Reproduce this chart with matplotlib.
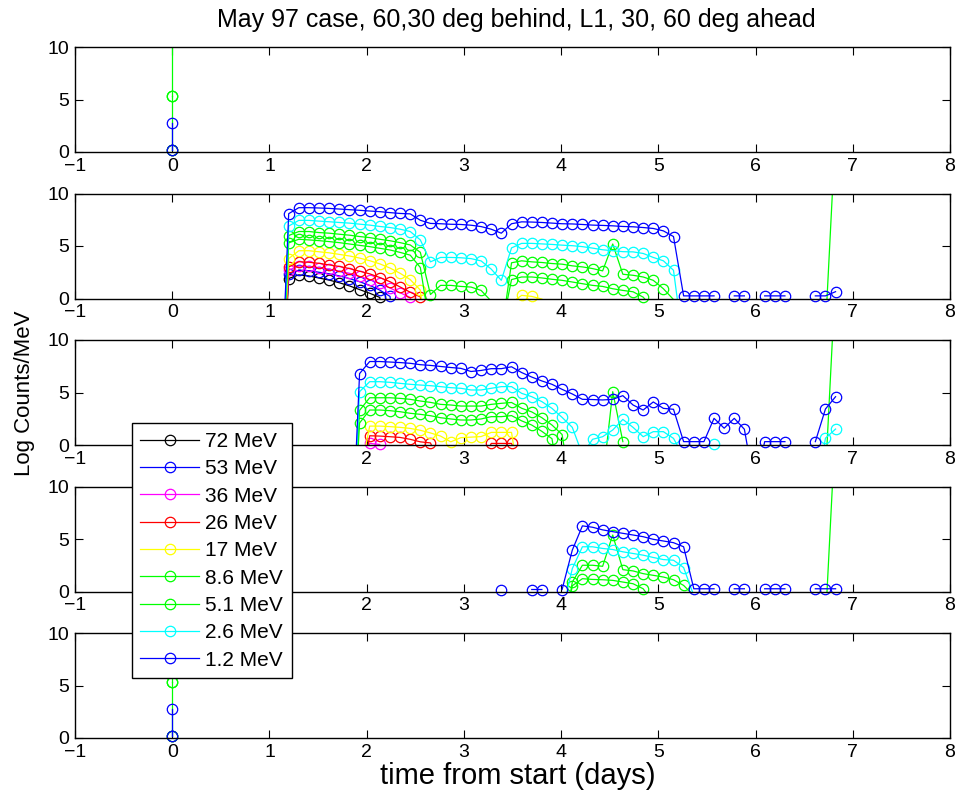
import numpy as np
import matplotlib
matplotlib.use("Agg")
import matplotlib.pyplot as plt
from matplotlib.lines import Line2D

plt.rcParams['font.family'] = ['Liberation Sans', 'DejaVu Sans']

TITLE = "May 97 case, 60,30 deg behind, L1, 30, 60 deg ahead"
XLABEL = "time from start (days)"
YLABEL = "Log Counts/MeV"
ENERGIES = ["72 MeV", "53 MeV", "36 MeV", "26 MeV", "17 MeV",
            "8.6 MeV", "5.1 MeV", "2.6 MeV", "1.2 MeV"]
COLORS = ['#000000', '#0000ff', '#ff00ff', '#ff0000', '#ffff00',
          '#00ff00', '#00ff00', '#00ffff', '#0000ff']
X_TICKS = list(range(-1, 9))
Y_TICKS = [0, 5, 10]

# sample times (days), 2.5-hour bins
T_DAYS = [0.052, 0.156, 0.260, 0.365, 0.469, 0.573, 0.677, 0.781, 0.885, 0.990,
          1.094, 1.198, 1.302, 1.406, 1.510, 1.615, 1.719, 1.823, 1.927, 2.031,
          2.135, 2.240, 2.344, 2.448, 2.552, 2.656, 2.760, 2.865, 2.969, 3.073,
          3.177, 3.281, 3.385, 3.490, 3.594, 3.698, 3.802, 3.906, 4.010, 4.115,
          4.219, 4.323, 4.427, 4.531, 4.635, 4.740, 4.844, 4.948, 5.052, 5.156,
          5.260, 5.365, 5.469, 5.573, 5.677, 5.781, 5.885, 5.990, 6.094, 6.198,
          6.302, 6.406, 6.510, 6.615, 6.719, 6.823]

N = None

# Panel 1 (60 deg behind) and panel 5 (60 deg ahead): samples only at t = 0
P1_T0 = {"72 MeV": [0.2], "8.6 MeV": [0.2, 5.3], "5.1 MeV": [5.3, 16.0],
         "1.2 MeV": [0.2, 2.8]}
P5_T0 = {"72 MeV": [0.2], "8.6 MeV": [0.2, 5.3], "5.1 MeV": [5.3, 16.0],
         "1.2 MeV": [0.2, 2.8]}

# Panels 2-4: (first bin index in T_DAYS, values)
P2 = {
    "72 MeV": (10, [-15, 1.9, 2.25, 2.15, 1.95, 1.75, 1.5, 1.2, 0.85, 0.5, 0.1, -8]),
    "53 MeV": (10, [-15, 2.3, 2.7, 2.65, 2.5, 2.35, 2.15, 1.9, 1.6, 1.25, 0.8, 0.2, -8]),
    "36 MeV": (10, [-15, 2.7, 3.1, 3.05, 2.95, 2.8, 2.6, 2.4, 2.1, 1.8, 1.45, 1.0, 0.55,
                    0.1, -8]),
    "26 MeV": (10, [-15, 3.0, 3.5, 3.45, 3.35, 3.2, 3.05, 2.85, 2.6, 2.35, 2.0, 1.6, 1.1,
                    0.6, 0.15, -8]),
    "17 MeV": (10, [-15, 3.8, 4.55, 4.55, 4.45, 4.35, 4.2, 4.05, 3.85, 3.6, 3.3, 2.9, 2.4,
                    1.8, 0.8, -8, N, N, N, N, N, N, N, -0.4, 0.3, 0.2, -0.05]),
    "8.6 MeV": (10, [-15, 5.3, 5.64, 5.58, 5.51, 5.42, 5.32, 5.19, 5.06, 4.94, 4.78, 4.62,
                     4.39, 4.13, 2.95, -3, N, N, N, N, N, N, -3, 1.8, 2.05, 2.05, 1.96,
                     1.83, 1.73, 1.57, 1.41, 1.25, 1.15, 0.93, 0.77, 0.64, 0.13, -1]),
    "5.1 MeV": (10, [-15, 6.0, 6.38, 6.38, 6.28, 6.22, 6.12, 6.03, 5.9, 5.8, 5.64, 5.5,
                     5.32, 5.1, 4.4, 0.38, 1.25, 1.25, 1.15, 1.09, 0.77, -0.25, -3.4, 3.4,
                     3.59, 3.49, 3.43, 3.33, 3.27, 3.11, 3.01, 2.85, 2.63, 5.19, 2.31, 2.21,
                     2.05, 1.73, 0.93, -0.1, N, N, N, N, N, N, N, N, N, N, N, N, N, N,
                     -2.9, 16]),
    "2.6 MeV": (10, [-15, 6.9, 7.44, 7.44, 7.37, 7.31, 7.24, 7.18, 7.08, 6.99, 6.86, 6.76,
                     6.6, 6.38, 5.58, 3.49, 3.91, 3.91, 3.88, 3.80, 3.58, 2.8, 1.73, 4.82,
                     5.25, 5.25, 5.2, 5.15, 5.08, 5.03, 4.94, 4.8, 4.64, 4.55, 4.46, 4.44,
                     4.29, 3.91, 3.59, 2.69, -4.6]),
    "1.2 MeV": (10, [-15, 8.08, 8.65, 8.65, 8.62, 8.58, 8.52, 8.46, 8.40, 8.33, 8.27,
                     8.18, 8.10, 8.06, 7.45, 7.15, 7.12, 7.07, 7.05, 6.98, 6.85, 6.6, 6.22,
                     7.12, 7.30, 7.28, 7.24, 7.18, 7.12, 7.10, 7.05, 6.99, 6.96, 6.92, 6.86,
                     6.83, 6.76, 6.67, 6.44, 5.9, 0.25, 0.25, 0.25, 0.25, N, 0.25, 0.25, N,
                     0.25, 0.25, 0.25, N, N, 0.25, 0.25, 0.65]),
}

P3 = {
    "36 MeV": (18, [-5, 0.15, 0.05, -5]),
    "26 MeV": (18, [-5, 0.88, 0.85, 0.79, 0.72, 0.54, 0.3, 0.2, -2, N, N, N, -2, 0.15,
                    0.15, 0.15, -2]),
    "17 MeV": (17, [-15, -3, 1.8, 1.8, 1.75, 1.68, 1.58, 1.4, 1.15, 0.85, 0.3, 0.7, 0.75,
                    0.8, 1.2, 1.2, 1.2, -5]),
    "8.6 MeV": (17, [-15, 2.1, 3.33, 3.33, 3.27, 3.17, 3.02, 2.92, 2.79, 2.6, 2.48, 2.38,
                     2.38, 2.48, 2.7, 2.7, 2.8, 2.3, 1.9, 1.3, 0.6, -5]),
    "5.1 MeV": (17, [-15, 3.3, 4.5, 4.5, 4.5, 4.44, 4.35, 4.19, 4.06, 3.87, 3.81, 3.71,
                     3.71, 3.71, 3.87, 3.97, 4.05, 3.5, 3.15, 2.6, 1.9, 1.0, -5, N, N,
                     -3.5, 5.08, 0.32, N, N, N, N, N, N, N, N, N, N, N, N, N, N, N, N, N,
                     N, N, -2.9, 16]),
    "2.6 MeV": (17, [-15, 5.08, 6.03, 6.03, 5.97, 5.87, 5.78, 5.71, 5.65, 5.56, 5.46, 5.4,
                     5.24, 5.24, 5.4, 5.56, 5.56, 4.92, 4.6, 4.13, 3.49, 2.63, 1.68, -0.9,
                     0.54, 0.79, 1.43, 2.44, 1.68, 0.79, 1.27, 1.27, 0.63, -1.1, N, N, 0.1,
                     N, N, N, N, N, N, N, N, N, -5, 0.65, 1.52]),
    "1.2 MeV": (17, [-15, 6.8, 7.95, 7.95, 7.9, 7.85, 7.78, 7.65, 7.58, 7.48, 7.38, 7.3,
                     7.0, 7.1, 7.27, 7.27, 7.45, 6.9, 6.47, 6.1, 5.78, 5.3, 4.86, 4.35, 4.33,
                     4.29, 4.35, 4.7, 3.81, 3.33, 4.1, 3.49, 3.4, 0.32, 0.32, 0.32, 2.54,
                     1.6, 2.54, 1.5, -4, 0.32, 0.32, 0.32, N, N, 0.32, 3.43, 4.6]),
}

P4 = {
    "8.6 MeV": (38, [-5, 0.55, 1.22, 1.15, 1.12, 1.06, 0.9, 0.74, 0.26, -1]),
    "5.1 MeV": (38, [-5, 0.9, 2.5, 2.5, 2.4, 5.38, 2.08, 1.96, 1.7, 1.54, 1.38, 1.12, 0.58,
                     -0.4, N, N, N, N, N, N, N, N, N, N, N, N, -2.9, 16]),
    "2.6 MeV": (38, [-2.0, 2.18, 4.26, 4.26, 4.1, 4.0, 3.78, 3.62, 3.46, 3.24, 3.04, 2.98,
                     2.28, -0.4]),
    "1.2 MeV": (32, [0.19, N, N, 0.19, 0.19, N, 0.19, 3.94, 6.25, 6.12, 5.87, 5.7, 5.54,
                     5.38, 5.22, 4.97, 4.81, 4.65, 4.26, 0.26, 0.26, 0.26, N, 0.26, 0.26, N,
                     0.26, 0.26, 0.26, N, N, 0.26, 0.26, 0.26]),
}

# ---------------------------------------------------------------- drawing
W, H = 957, 792
fig = plt.figure(figsize=(W / 100, H / 100), dpi=100)

AX_LEFT, AX_RIGHT = 75, 950
PANEL_TOPS = [47, 193.5, 340, 486.5, 633]
PANEL_H = 105

LW = 0.9
MS = 7.5
MEW = 0.9


def draw_series(ax, t, y, color):
    t = np.asarray(t, float)
    y = np.asarray(y, float)
    ax.plot(t, y, '-', color=color, lw=LW, zorder=2)
    ok = (y >= 0) & (y <= 10)
    ax.plot(t[ok], y[ok], 'o', color=color, mfc='none', ms=MS, mew=MEW,
            clip_on=False, zorder=2)


def grid_xy(spec):
    first, vals = spec
    t = T_DAYS[first:first + len(vals)]
    y = [np.nan if v is None else v for v in vals]
    return t, y


axes = []
for i, top in enumerate(PANEL_TOPS):
    ax = fig.add_axes([AX_LEFT / W, 1 - (top + PANEL_H) / H,
                       (AX_RIGHT - AX_LEFT) / W, PANEL_H / H])
    ax.set_xlim(-1, 8)
    ax.set_ylim(0, 10)
    ax.set_xticks(X_TICKS)
    ax.set_yticks(Y_TICKS)
    ax.tick_params(direction='in', top=True, right=True, length=6, width=0.8,
                   labelsize=14, pad=4)
    for s in ax.spines.values():
        s.set_linewidth(1.0)
    axes.append(ax)

for ax, data in ((axes[0], P1_T0), (axes[4], P5_T0)):
    for lab, col in zip(ENERGIES, COLORS):
        if lab in data:
            vals = data[lab]
            draw_series(ax, [0.0] * len(vals), vals, col)

for ax, data in ((axes[1], P2), (axes[2], P3), (axes[3], P4)):
    for lab, col in zip(ENERGIES, COLORS):
        if lab in data:
            t, y = grid_xy(data[lab])
            draw_series(ax, t, y, col)

fig.text((AX_LEFT + AX_RIGHT) / 2 / W + 0.004, 1 - 20 / H, TITLE, ha='center',
         va='center', fontsize=18)
fig.text((AX_LEFT + AX_RIGHT) / 2 / W + 0.006, 1 - 776 / H, XLABEL, ha='center',
         va='center', fontsize=21)
fig.text(25 / W, 1 - 393 / H, YLABEL, ha='center', va='center', rotation=90,
         fontsize=16)

handles = [Line2D([], [], color=c, lw=LW, marker='o', mfc='none', ms=MS, mew=MEW)
           for c in COLORS]
leg = fig.legend(handles, ENERGIES, loc='upper left',
                 bbox_to_anchor=(131.7 / W, 1 - 423.3 / H),
                 bbox_transform=fig.transFigure, frameon=True, fancybox=False,
                 edgecolor='k', framealpha=1, fontsize=15, handlelength=2.8,
                 handletextpad=0.3, labelspacing=0.4, borderpad=0.42,
                 borderaxespad=0)
leg.get_frame().set_linewidth(1.0)

fig.savefig('out.png', dpi=100)
